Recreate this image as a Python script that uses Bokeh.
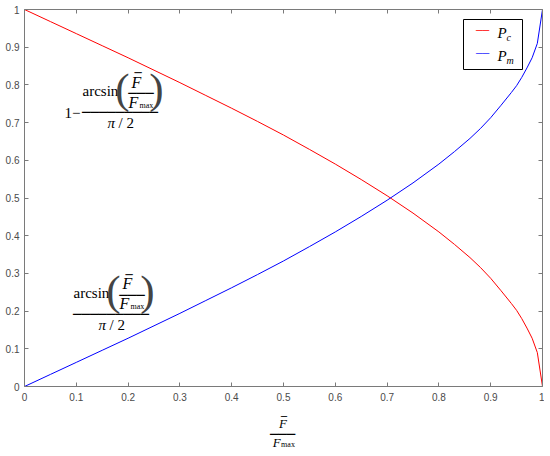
from bokeh.plotting import figure
from bokeh.layouts import column
from bokeh.models import (Label, LinearAxis, NumeralTickFormatter, BoxAnnotation,
                          FixedTicker, Range1d, CustomJSTickFormatter)
from bokeh.embed import file_html
from bokeh.resources import INLINE

# ---- data ----
x_ratio = [0.0, 0.05, 0.1, 0.15, 0.2, 0.25, 0.3, 0.35, 0.4, 0.45, 0.5, 0.55, 0.6,
           0.65, 0.7, 0.75, 0.8, 0.83, 0.86, 0.88, 0.9, 0.92, 0.94, 0.95, 0.96,
           0.97, 0.98, 0.99, 1.0]
p_m = [0.0, 0.032, 0.064, 0.096, 0.128, 0.161, 0.194, 0.228, 0.262, 0.297, 0.333,
       0.371, 0.410, 0.451, 0.494, 0.540, 0.590, 0.623, 0.658, 0.684, 0.713, 0.746,
       0.780, 0.798, 0.820, 0.845, 0.872, 0.910, 1.0]
p_c = [1.0, 0.968, 0.936, 0.904, 0.872, 0.839, 0.806, 0.772, 0.738, 0.703, 0.667,
       0.629, 0.590, 0.549, 0.506, 0.460, 0.410, 0.377, 0.342, 0.316, 0.287, 0.254,
       0.220, 0.202, 0.180, 0.155, 0.128, 0.090, 0.0]
x_ticks = [0.0, 0.1, 0.2, 0.3, 0.4, 0.5, 0.6, 0.7, 0.8, 0.9, 1.0]
y_ticks = [0.0, 0.1, 0.2, 0.3, 0.4, 0.5, 0.6, 0.7, 0.8, 0.9, 1.0]
series_names = ["P", "P"]
series_subs = ["c", "m"]
series_colors = ["#ff0000", "#0000ff"]
legend_sample_colors = ["#ff3030", "#4d4dff"]

AXIS_COLOR = "#7a7a7a"
TICK_TEXT = "#4a4a4a"
SERIF = "Liberation Serif"
BAR = "DejaVu Sans Mono"

p = figure(width=544, height=406, output_backend="svg", toolbar_location=None,
           x_range=Range1d(0, 1), y_range=Range1d(0, 1),
           min_border_left=24, min_border_right=2, min_border_top=9,
           min_border_bottom=20)
p.xgrid.visible = False
p.ygrid.visible = False
p.outline_line_color = None
p.background_fill_color = "white"
p.border_fill_color = "white"


def style_axis(ax, ticks, labels=True, standoff=4):
    ax.ticker = FixedTicker(ticks=ticks)
    ax.major_tick_in = 4
    ax.major_tick_out = 0
    ax.minor_tick_in = 0
    ax.minor_tick_out = 0
    ax.axis_line_color = AXIS_COLOR
    ax.major_tick_line_color = AXIS_COLOR
    ax.major_label_text_font = "Liberation Sans"
    ax.major_label_text_font_size = "10px"
    ax.major_label_text_color = TICK_TEXT
    ax.major_label_standoff = standoff
    if labels:
        ax.formatter = NumeralTickFormatter(format="0.[0]")
    else:
        ax.formatter = CustomJSTickFormatter(code="return ''")
        ax.major_label_standoff = 0


style_axis(p.xaxis[0], x_ticks, standoff=6)
style_axis(p.yaxis[0], y_ticks, standoff=5)
top_ax = LinearAxis()
right_ax = LinearAxis()
style_axis(top_ax, x_ticks, labels=False)
style_axis(right_ax, y_ticks, labels=False)
p.add_layout(top_ax, "above")
p.add_layout(right_ax, "right")

p.line(x_ratio, p_c, line_color=series_colors[0], line_width=1)
p.line(x_ratio, p_m, line_color=series_colors[1], line_width=1)


# reference pixel -> data coordinate helpers (for annotation placement)
def dx(px):
    return (px - 24) / 518


def dy(py):
    return (386 - py) / 377


def lab(fig, text, x, y, size, font=SERIF, style="normal", align="center",
        baseline="middle", color="black"):
    fig.add_layout(Label(x=x, y=y, text=text, text_font=font,
                         text_font_size=size, text_font_style=style,
                         text_align=align, text_baseline=baseline,
                         text_color=color))


def plab(text, px, py, size, **kw):
    lab(p, text, dx(px), dy(py), size, **kw)


# ---- legend (drawn by hand so the subscripts can be shown) ----
p.add_layout(BoxAnnotation(left=dx(463), right=dx(522), top=dy(19), bottom=dy(69),
                           fill_alpha=0, line_color="black", line_alpha=1,
                           line_width=1))
for i, (name, sub, col) in enumerate(zip(series_names, series_subs,
                                         legend_sample_colors)):
    row_y = 31 + 23 * i
    plab("\u2500\u2500", 482, row_y - 1, "11px", font=BAR, color=col)
    plab(name, 497, row_y + 1, "15px", style="italic", align="left")
    plab(sub, 506, row_y + 6, "10px", style="italic", align="left")


# ---- formula annotations ----
def formula(bx, by):
    plab("arcsin", bx + 1, by - 21, "15px", align="left")
    plab("(", bx + 41, by - 23.5, "43px", color="#444444")
    plab(")", bx + 75, by - 23.5, "43px", color="#444444")
    plab("F", bx + 55, by - 30, "16px", style="italic")
    plab("\u2500", bx + 56.5, by - 39, "12px", font=BAR)
    plab("\u2500\u2500\u2500", bx + 59.5, by - 19, "14px", font=BAR)
    plab("F", bx + 52, by - 10, "16px", style="italic")
    plab("max", bx + 58, by - 7, "8px", align="left")
    plab("\u2500" * 9, bx + 38.5, by, "14px", font=BAR)
    plab("\u03c0", bx + 26, by + 11, "15px", style="italic", align="left")
    plab("/ 2", bx + 37, by + 11, "15px", align="left")


formula(81, 111.5)
plab("1\u2212", 80, 112, "15px", align="right")
formula(72, 313)

# ---- x-axis label (F-bar over F_max) in a strip below the axes ----
q = figure(width=544, height=46, output_backend="svg", toolbar_location=None,
           x_range=Range1d(0, 544), y_range=Range1d(452, 406),
           x_axis_location=None, y_axis_location=None,
           min_border_left=0, min_border_right=0, min_border_top=0,
           min_border_bottom=0)
q.xgrid.visible = False
q.ygrid.visible = False
q.outline_line_color = None
q.background_fill_color = "white"
q.border_fill_color = "white"

lab(q, "F", 271.5, 423, "13px", style="italic")
lab(q, "\u2500", 272.5, 416, "10px", font=BAR)
lab(q, "\u2500\u2500\u2500", 271, 433, "14px", font=BAR)
lab(q, "F", 265, 442, "13px", style="italic")
lab(q, "max", 269.5, 444, "8px", align="left")

layout = column(p, q, spacing=0)
open("out.html", "w").write(file_html(layout, INLINE))
